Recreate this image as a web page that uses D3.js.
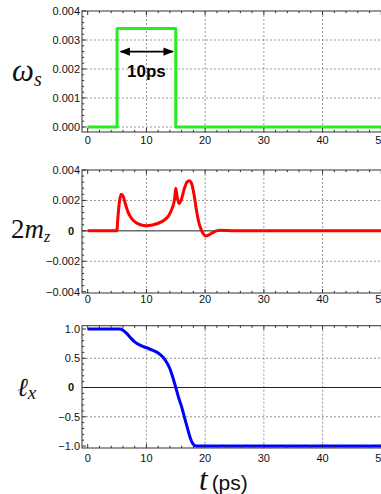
<!DOCTYPE html>
<html><head><meta charset="utf-8">
<script src="https://cdn.jsdelivr.net/npm/d3@7"></script>
<style>
html,body{margin:0;padding:0;background:#fff;overflow:hidden;}
svg{display:block;}
</style></head>
<body>
<svg id="c" width="381" height="494"></svg>
<script>
// ---- data ----
const xTicks = [0, 10, 20, 30, 40, 50];

// panel 1: omega_s pulse
const omegaT = [0, 5, 5, 15, 15, 50];
const omegaV = [0, 0, 0.0034, 0.0034, 0, 0];
const omegaTicks = [0, 0.001, 0.002, 0.003, 0.004];
const omegaTickLabels = ["0.000", "0.001", "0.002", "0.003", "0.004"];

// panel 2: 2 m_z
const mzT = [0, 4.95, 5.15, 5.4, 5.7, 6.0, 6.4, 6.9, 7.5, 8.2, 9, 10, 11, 12, 13, 13.8, 14.4, 14.8, 15.0, 15.25, 15.55, 15.9, 16.4, 16.9, 17.3, 17.7, 18.1, 18.5, 18.9, 19.3, 19.7, 20.1, 20.6, 21.2, 21.9, 22.7, 23.6, 25, 50];
const mzV = [0, 0, 0.0009, 0.0019, 0.0024, 0.0023, 0.0018, 0.0012, 0.0008, 0.00055, 0.0004, 0.00033, 0.00038, 0.0005, 0.0007, 0.001, 0.0015, 0.0021, 0.0028, 0.0022, 0.0018, 0.002, 0.0027, 0.0032, 0.0033, 0.0031, 0.0024, 0.0014, 0.0006, 0.0001, -0.0002, -0.00034, -0.00028, -0.00014, 0.0, 0.00004, 0.00002, 0, 0];
const mzTicks = [-0.004, -0.002, 0, 0.002, 0.004];
const mzTickLabels = ["\u22120.004", "\u22120.002", "0", "0.002", "0.004"];

// panel 3: l_x
const lxT = [0, 5.5, 6.0, 6.6, 7.3, 8.0, 9.0, 10.0, 11.0, 12.0, 12.8, 13.5, 14.0, 14.5, 15.0, 15.5, 16.0, 16.5, 17.0, 17.5, 17.9, 18.3, 18.7, 50];
const lxV = [1, 1, 0.98, 0.93, 0.85, 0.78, 0.72, 0.68, 0.64, 0.59, 0.52, 0.42, 0.32, 0.17, 0.0, -0.18, -0.33, -0.52, -0.7, -0.87, -0.96, -0.995, -1, -1];
const lxTicks = [-1, -0.5, 0, 0.5, 1];
const lxTickLabels = ["\u22121.0", "\u22120.5", "0", "0.5", "1.0"];

// ---- drawing ----
const svg = d3.select("#c");
const x = d3.scaleLinear().domain([0, 50]).range([87.7, 381.3]);
const frameL = 82, frameR = 390;
const sans = "Liberation Sans, Arial, sans-serif";

function panel(cfg) {
  const y = d3.scaleLinear().domain(cfg.domain).range(cfg.range);
  const g = svg.append("g");
  xTicks.filter(t => t > 0 && t < 50).forEach(t => {
    g.append("line").attr("x1", x(t)).attr("x2", x(t))
      .attr("y1", cfg.top).attr("y2", cfg.bottom)
      .attr("stroke", "#8a8a8a").attr("stroke-width", 0.9).attr("stroke-dasharray", "2,2");
  });
  cfg.grid.forEach(v => {
    g.append("line").attr("x1", frameL).attr("x2", frameR)
      .attr("y1", y(v)).attr("y2", y(v))
      .attr("stroke", "#8a8a8a").attr("stroke-width", 0.9).attr("stroke-dasharray", "2,2");
  });
  if (cfg.zeroLine) {
    g.append("line").attr("x1", frameL).attr("x2", frameR)
      .attr("y1", y(0)).attr("y2", y(0))
      .attr("stroke", "#222").attr("stroke-width", 1);
  }
  const pts = cfg.t.map((t, i) => [t, cfg.v[i]]);
  g.append("path").datum(pts)
    .attr("fill", "none").attr("stroke", cfg.color).attr("stroke-width", 3)
    .attr("stroke-linejoin", "round")
    .attr("d", d3.line().x(d => x(d[0])).y(d => y(d[1])).curve(cfg.curve));
  g.append("rect").attr("x", frameL).attr("y", cfg.top)
    .attr("width", frameR - frameL).attr("height", cfg.bottom - cfg.top)
    .attr("fill", "none").attr("stroke", "#333").attr("stroke-width", 1);
  for (let t = 0; t <= 50; t += 2) {
    const major = t % 10 === 0;
    const len = major ? 4 : 2.2;
    g.append("line").attr("x1", x(t)).attr("x2", x(t))
      .attr("y1", cfg.bottom).attr("y2", cfg.bottom - len).attr("stroke", "#333");
    g.append("line").attr("x1", x(t)).attr("x2", x(t))
      .attr("y1", cfg.top).attr("y2", cfg.top + len).attr("stroke", "#333");
  }
  const step = (cfg.ticks[1] - cfg.ticks[0]);
  const minorStep = step / cfg.minorN;
  for (let k = 0; ; k++) {
    const v = cfg.ticks[0] + k * minorStep;
    if (v > cfg.ticks[cfg.ticks.length - 1] + 1e-12) break;
    const major = k % cfg.minorN === 0;
    const len = major ? 4 : 2.2;
    g.append("line").attr("x1", frameL).attr("x2", frameL + len)
      .attr("y1", y(v)).attr("y2", y(v)).attr("stroke", "#333");
  }
  cfg.ticks.forEach((v, i) => {
    const lab = cfg.labels[i];
    const isZeroBold = cfg.boldZero && lab === "0";
    g.append("text").attr("x", isZeroBold ? 74 : 80).attr("y", y(v))
      .attr("dy", "0.35em").attr("text-anchor", "end")
      .attr("font-family", sans)
      .attr("font-size", 11).attr("font-weight", isZeroBold ? "bold" : "normal")
      .attr("fill", "#111").text(lab);
  });
  xTicks.forEach(t => {
    g.append("text").attr("x", x(t)).attr("y", cfg.xLabelY)
      .attr("dy", "0.35em").attr("text-anchor", "middle")
      .attr("font-family", sans)
      .attr("font-size", 11).attr("fill", "#111").text(t);
  });
  return y;
}

const y1 = panel({domain: [0, 0.004], range: [127, 11], top: 11, bottom: 132,
  t: omegaT, v: omegaV, color: "#22ee22", curve: d3.curveLinear,
  ticks: omegaTicks, labels: omegaTickLabels, grid: [0, 0.001, 0.002, 0.003],
  minorN: 5, xLabelY: 140.5, zeroLine: false, boldZero: false});

panel({domain: [-0.004, 0.004], range: [291.7, 170], top: 170, bottom: 293,
  t: mzT, v: mzV, color: "#ff0000", curve: d3.curveMonotoneX,
  ticks: mzTicks, labels: mzTickLabels, grid: [-0.002, 0.002],
  minorN: 5, xLabelY: 299.5, zeroLine: true, boldZero: true});

panel({domain: [-1, 1], range: [446, 329], top: 325.7, bottom: 448,
  t: lxT, v: lxV, color: "#0000ff", curve: d3.curveMonotoneX,
  ticks: lxTicks, labels: lxTickLabels, grid: [-0.5, 0.5],
  minorN: 5, xLabelY: 457.7, zeroLine: true, boldZero: true});

// arrow annotation "10ps"
const defs = svg.append("defs");
defs.append("marker").attr("id", "ah").attr("viewBox", "0 0 10 10")
  .attr("refX", 9).attr("refY", 5).attr("markerWidth", 6.5).attr("markerHeight", 6.5)
  .attr("orient", "auto-start-reverse")
  .append("path").attr("d", "M0,1 L10,5 L0,9 Z").attr("fill", "#000");
const arrowY = y1(0.0026);
svg.append("line").attr("x1", x(5.6)).attr("x2", x(14.5)).attr("y1", arrowY).attr("y2", arrowY)
  .attr("stroke", "#000").attr("stroke-width", 1.6)
  .attr("marker-start", "url(#ah)").attr("marker-end", "url(#ah)");
svg.append("text").attr("x", x(10.0)).attr("y", 77)
  .attr("text-anchor", "middle").attr("font-family", sans)
  .attr("font-weight", "bold").attr("font-size", 17).attr("fill", "#000").text("10ps");

// axis labels
const serif = "Liberation Serif, Times New Roman, serif";
const lab1 = svg.append("text").attr("x", 12).attr("y", 81).attr("font-family", serif)
  .attr("font-style", "italic").attr("font-size", 31).attr("fill", "#111");
lab1.append("tspan").text("\u03c9");
lab1.append("tspan").attr("font-size", 20).attr("dy", 5).text("s");

const lab2 = svg.append("text").attr("x", 11).attr("y", 238).attr("font-family", serif)
  .attr("font-size", 27).attr("fill", "#111");
lab2.append("tspan").text("2");
lab2.append("tspan").attr("font-style", "italic").text("m");
lab2.append("tspan").attr("font-style", "italic").attr("font-size", 16).attr("dy", 4).text("z");

const lab3 = svg.append("text").attr("x", 17).attr("y", 396).attr("font-family", serif)
  .attr("font-style", "italic").attr("font-size", 26).attr("fill", "#111");
lab3.append("tspan").text("\u2113");
lab3.append("tspan").attr("font-size", 19).attr("dy", 3).text("x");

const lab4 = svg.append("text").attr("x", 199).attr("y", 490).attr("fill", "#111");
lab4.append("tspan").attr("font-family", serif).attr("font-style", "italic").attr("font-size", 31).text("t");
lab4.append("tspan").attr("font-family", sans).attr("font-size", 21).attr("dx", 4).text("(ps)");
</script>
</body></html>
